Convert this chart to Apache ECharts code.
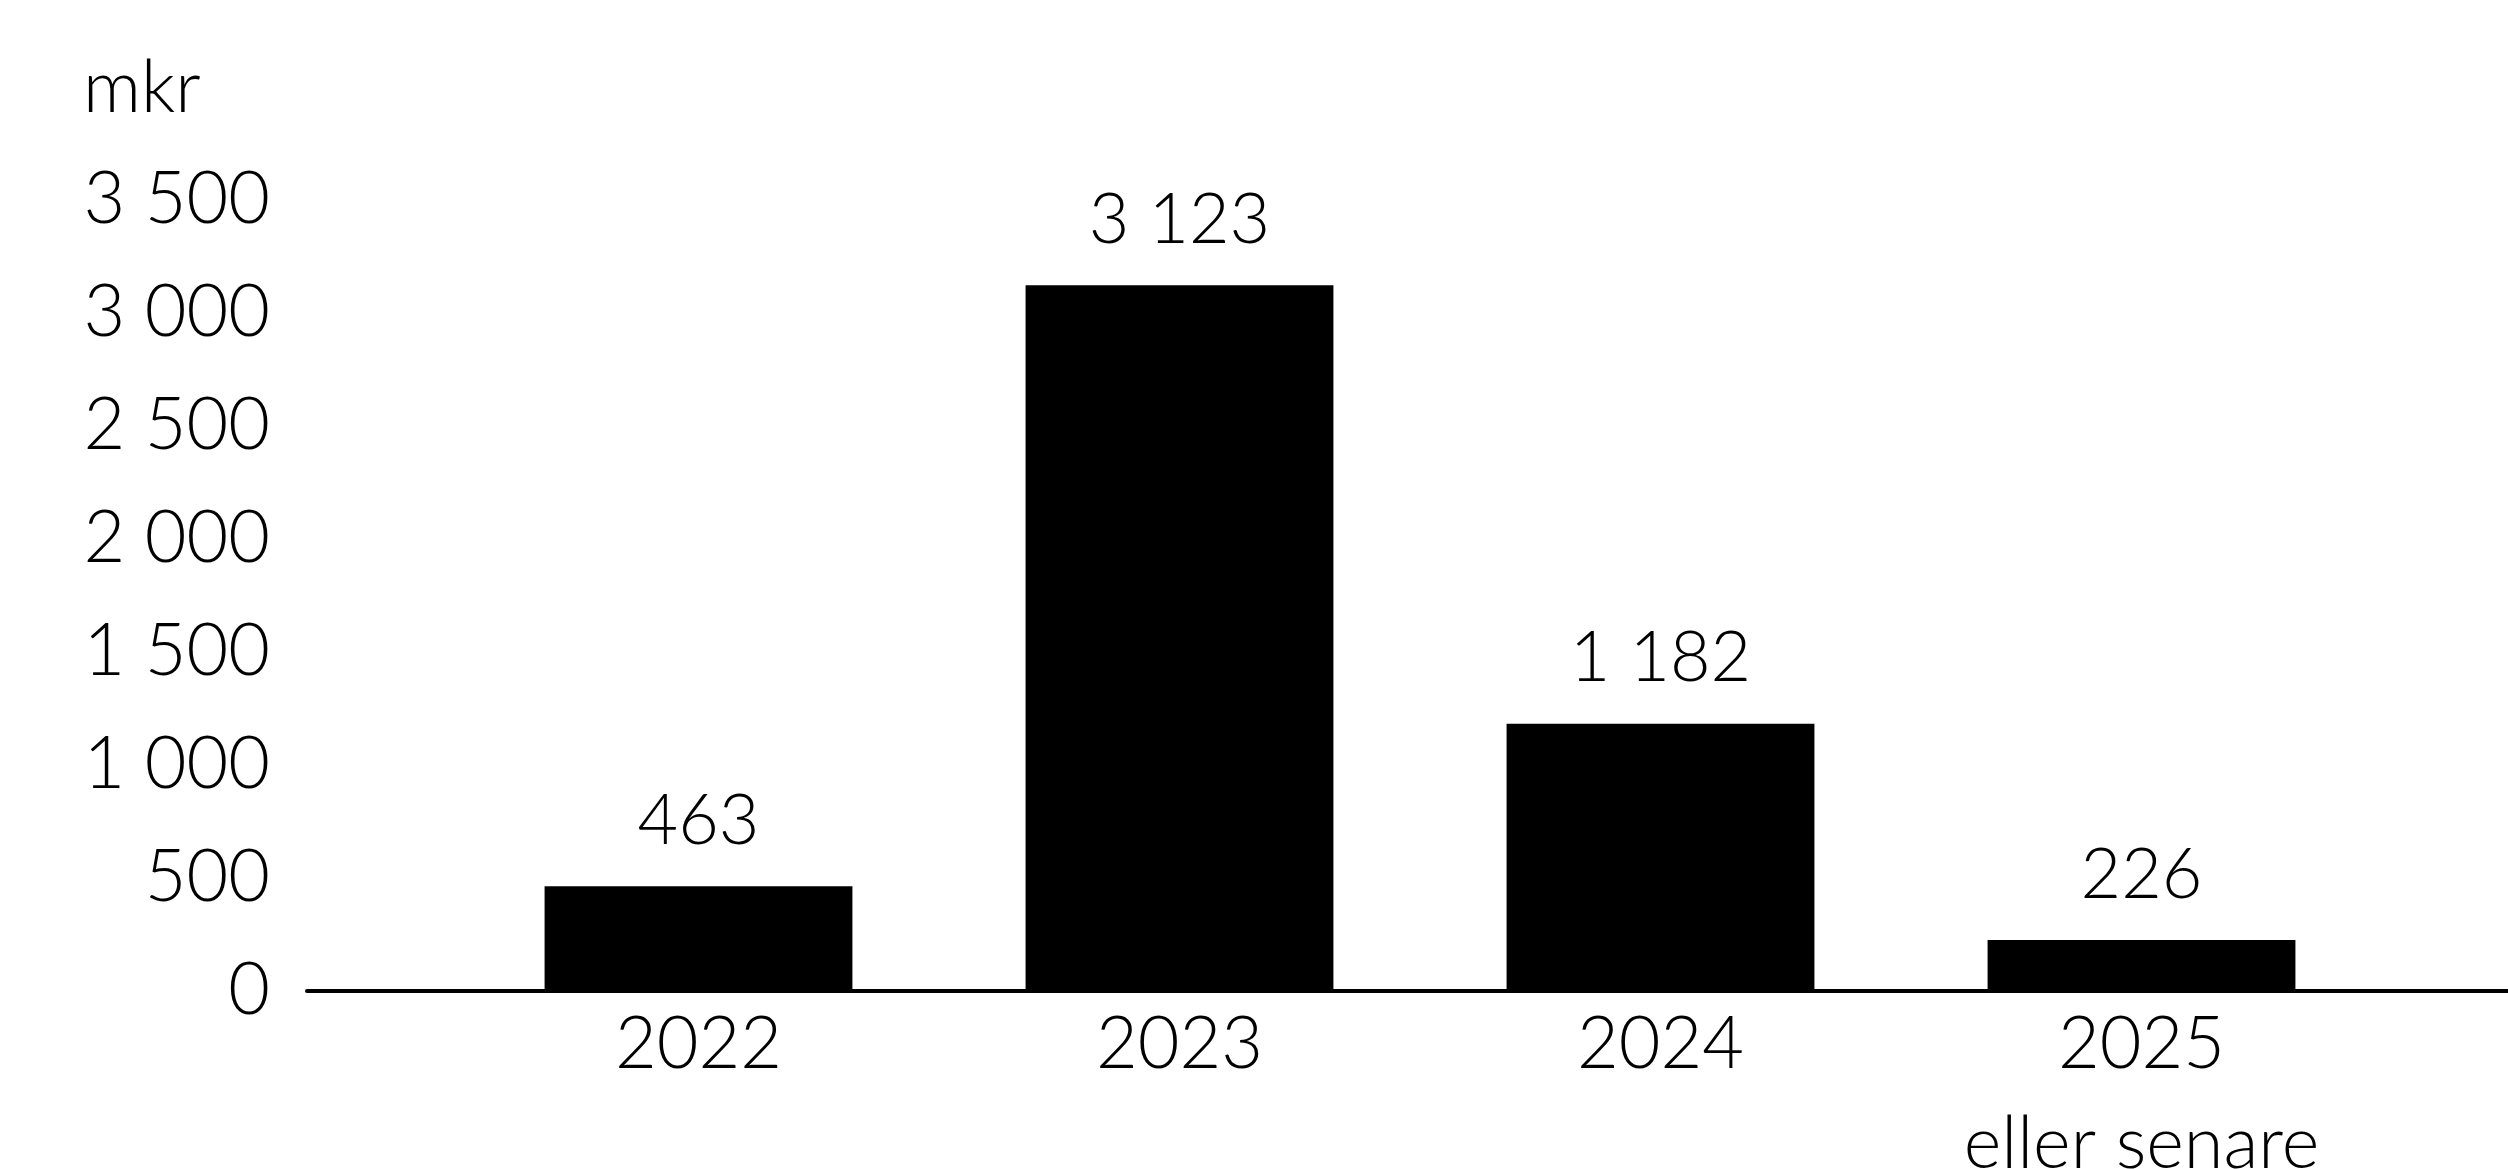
<!DOCTYPE html>
<html>
<head>
<meta charset="utf-8">
<style>
html,body{margin:0;padding:0;background:#fff;}
#chart{width:2508px;height:1169px;}
</style>
<script src="https://cdn.jsdelivr.net/npm/echarts@6/dist/echarts.min.js"></script>
</head>
<body>
<div id="chart"></div>
<script>
const categories = ['2022', '2023', '2024', '2025\neller senare'];
const values = [463, 3123, 1182, 226];
const unitLabel = 'mkr';
const yMin = 0;
const yMax = 3500;
const yStep = 500;

function fmt(v) {
  return String(v).replace(/\B(?=(\d{3})+(?!\d))/g, ' ');
}

const FONT = 'Lato';
const chart = echarts.init(document.getElementById('chart'), null, {renderer: 'canvas'});
chart.setOption({
  backgroundColor: '#ffffff',
  animation: false,
  title: {
    text: unitLabel,
    left: 78,
    top: 48,
    textStyle: {fontFamily: FONT, fontSize: 72, fontWeight: 300, color: '#000'}
  },
  grid: [
    {left: 307, right: 0, top: 200, bottom: 178, containLabel: false, outerBoundsMode: 'none'},
    {left: 458, right: 126, top: 200, bottom: 178, containLabel: false, outerBoundsMode: 'none'}
  ],
  xAxis: [
    {
      type: 'category', gridIndex: 0, data: categories,
      axisLine: {show: true, lineStyle: {color: '#000', width: 4}},
      axisTick: {show: false}, axisLabel: {show: false}, splitLine: {show: false}
    },
    {
      type: 'category', gridIndex: 1, data: categories,
      axisLine: {show: false}, axisTick: {show: false}, splitLine: {show: false},
      axisLabel: {
        show: true, interval: 0, margin: 4, color: '#000',
        fontFamily: FONT, fontSize: 72, fontWeight: 300, lineHeight: 100
      }
    }
  ],
  yAxis: [
    {
      type: 'value', gridIndex: 0, min: yMin, max: yMax, interval: yStep,
      axisLine: {show: false}, axisTick: {show: false}, splitLine: {show: false},
      axisLabel: {
        show: true, margin: 37, color: '#000', fontFamily: FONT, fontSize: 72,
        fontWeight: 300, formatter: fmt
      }
    },
    {
      type: 'value', gridIndex: 1, min: yMin, max: yMax, interval: yStep,
      axisLine: {show: false}, axisTick: {show: false}, splitLine: {show: false},
      axisLabel: {show: false}
    }
  ],
  series: [
    {
      type: 'bar', xAxisIndex: 1, yAxisIndex: 1, data: values,
      barWidth: '64%',
      itemStyle: {color: '#000'},
      label: {
        show: true, position: 'top', distance: 30, color: '#000',
        fontFamily: FONT, fontSize: 70, fontWeight: 300, formatter: p => fmt(p.value)
      }
    }
  ]
});
</script>
</body>
</html>
